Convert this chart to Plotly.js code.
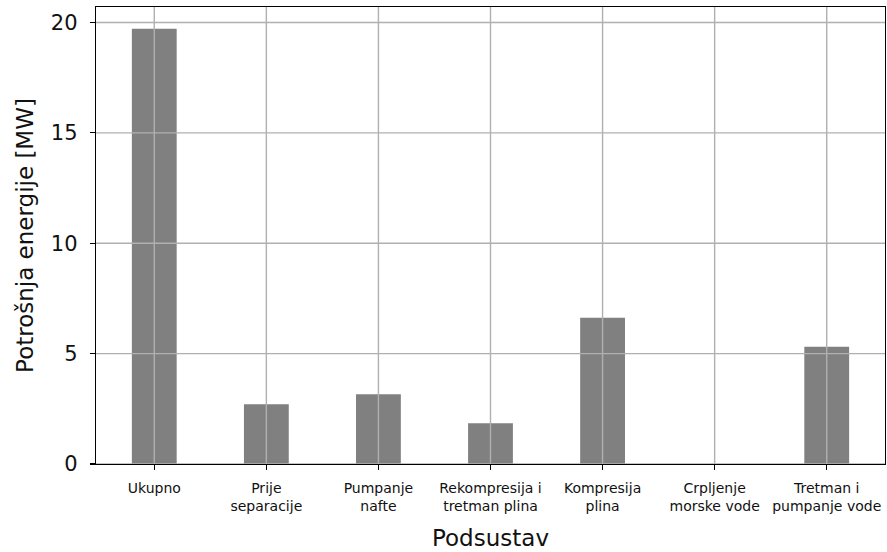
<!DOCTYPE html>
<html>
<head>
<meta charset="utf-8">
<script src="https://cdn.plot.ly/plotly-3.0.1.min.js"></script>
<style>html,body{margin:0;padding:0;background:#fff;}#chart{width:887px;height:552px;}</style>
</head>
<body>
<div id="chart"></div>
<script>
const categories = ["Ukupno", "Prije<br>separacije", "Pumpanje<br>nafte", "Rekompresija i<br>tretman plina", "Kompresija<br>plina", "Crpljenje<br>morske vode", "Tretman i<br>pumpanje vode"];
const values = [19.71, 2.71, 3.16, 1.85, 6.62, 0, 5.31];
const yTicks = [0, 5, 10, 15, 20];

const font = "DejaVu Sans, sans-serif";
const gridColor = "#b0b0b0";

const shapes = [];
categories.forEach((c, i) => {
  shapes.push({type: "line", layer: "above", xref: "x", yref: "y domain", x0: i, x1: i, y0: 0, y1: 1,
    line: {color: gridColor, width: 1.4}});
});
yTicks.forEach(v => {
  shapes.push({type: "line", layer: "above", xref: "x domain", yref: "y", x0: 0, x1: 1, y0: v, y1: v,
    line: {color: gridColor, width: 1.4}});
});

const trace = {
  type: "bar",
  x: categories.map((c, i) => i),
  y: values,
  width: 0.4,
  marker: {color: "#808080", line: {width: 0}},
  hoverinfo: "skip"
};

const layout = {
  width: 887, height: 552,
  margin: {l: 96, r: 2, t: 7, b: 88},
  paper_bgcolor: "#fff", plot_bgcolor: "#fff",
  showlegend: false,
  font: {family: font, color: "#000"},
  shapes: shapes,
  xaxis: {
    range: [-0.52, 6.52],
    tickmode: "array",
    tickvals: categories.map((c, i) => i),
    ticktext: categories,
    tickfont: {size: 14, family: font, color: "#111"},
    ticks: "outside", ticklen: 5, tickwidth: 1.3, tickcolor: "#000",
    ticklabelstandoff: 6,
    showgrid: false, zeroline: false,
    showline: true, linecolor: "#000", linewidth: 1.3, mirror: true,
    title: {text: "Podsustav", font: {size: 23, family: font, color: "#111"}, standoff: 16},
    automargin: false
  },
  yaxis: {
    range: [0, 20.7],
    tickmode: "array",
    tickvals: yTicks,
    ticktext: yTicks.map(String),
    tickfont: {size: 21, family: font, color: "#111"},
    ticks: "outside", ticklen: 5, tickwidth: 1.3, tickcolor: "#000",
    ticklabelstandoff: 8,
    showgrid: false, zeroline: false,
    showline: true, linecolor: "#000", linewidth: 1.3, mirror: true,
    title: {text: "Potrošnja energije [MW]", font: {size: 23, family: font, color: "#111"}, standoff: 10},
    automargin: false
  }
};

Plotly.newPlot("chart", [trace], layout, {displayModeBar: false, staticPlot: true});
</script>
</body>
</html>
